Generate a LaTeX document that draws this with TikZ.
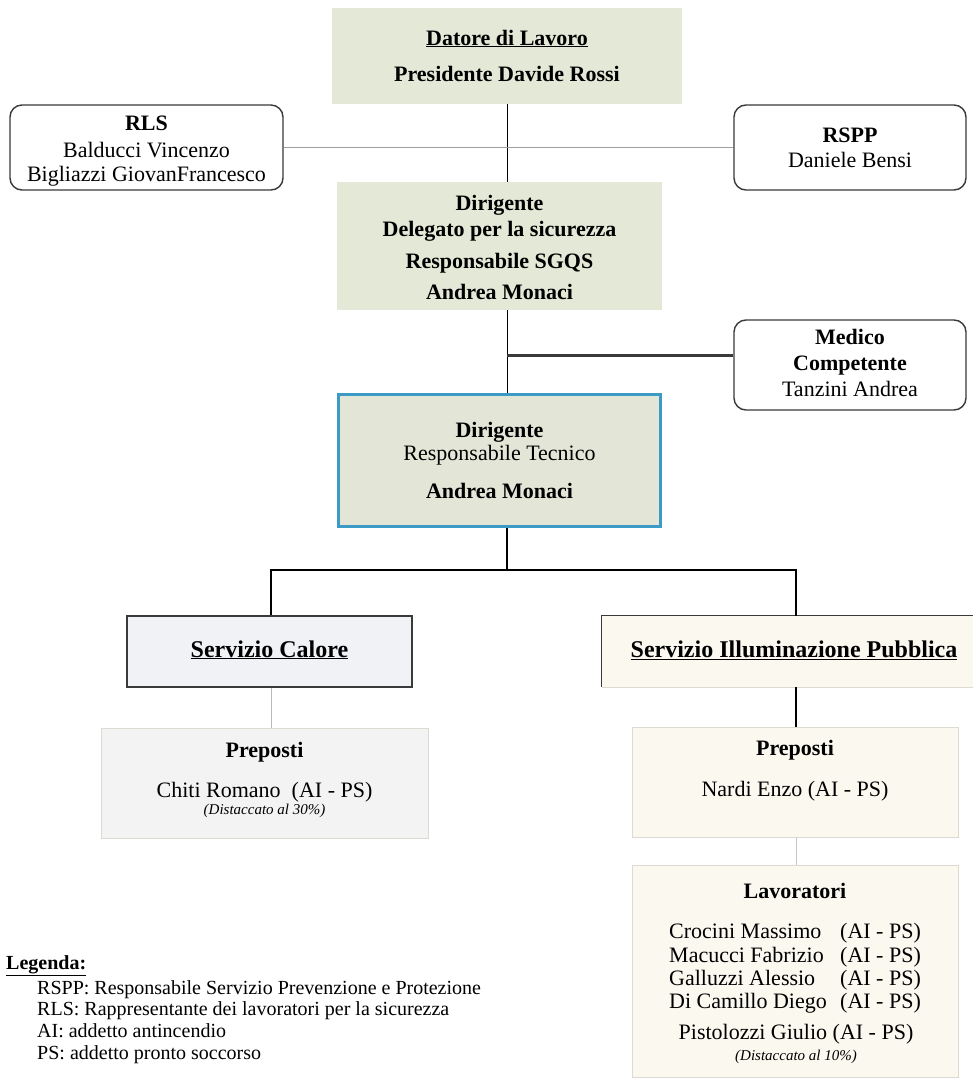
\documentclass[tikz,border=0pt]{standalone}
\usepackage{fontspec}
\setmainfont{Liberation Serif}
\newcommand{\myfs}[1]{\fontsize{#1}{#1}\selectfont}
\definecolor{sagec}{HTML}{E4E8D6}
\definecolor{sagetwo}{HTML}{E3E5D7}
\definecolor{bluec}{HTML}{3C9BC6}
\definecolor{calorec}{HTML}{F1F2F6}
\definecolor{creamc}{HTML}{FAF8EF}
\definecolor{grayc}{HTML}{F3F3F3}
\definecolor{edgec}{HTML}{3A3A3A}
\definecolor{softedge}{HTML}{DCDAD2}
\tikzset{
  sagebox/.style={fill=sagec, draw=none, inner sep=0pt},
  rbox/.style={draw=edgec, line width=1.4pt, rounded corners=12pt, fill=white, inner sep=0pt},
  softbox/.style={draw=softedge, line width=1pt, inner sep=0pt},
  hd/.style={inner sep=0pt, text height=15pt, text depth=5pt, font=\myfs{22}\bfseries},
  tx/.style={inner sep=0pt, text height=15pt, text depth=5pt, font=\myfs{22}},
  it/.style={inner sep=0pt, text height=10pt, text depth=3.5pt, font=\myfs{15}\itshape},
  lg/.style={inner sep=0pt, anchor=west, text height=14pt, text depth=4.5pt, font=\myfs{20}},
  conn/.style={draw=black, line width=1.1pt},
}
\begin{document}
\begin{tikzpicture}[x=1pt,y=-1pt]
\useasboundingbox (0,0) rectangle (973,1079);
\fill[white] (0,0) rectangle (973,1079);
\coordinate (spine) at (507,0);

% ---- boxes ----
\node[sagebox, minimum width=350pt, minimum height=96pt] (datore) at (507,56) {};
\node[rbox, minimum width=273pt, minimum height=85pt] (rls) at (146.5,147.5) {};
\node[rbox, minimum width=232pt, minimum height=85pt] (rspp) at (850,147.5) {};
\node[sagebox, minimum width=325pt, minimum height=128pt] (dir1) at (499.5,246) {};
\node[rbox, minimum width=232pt, minimum height=90pt] (med) at (850,365) {};
\node[fill=sagetwo, draw=bluec, line width=3pt, inner sep=0pt, minimum width=322pt, minimum height=132pt] (dir2) at (499.5,460.5) {};
\node[fill=calorec, draw=edgec, line width=1.3pt, inner sep=0pt, minimum width=285pt, minimum height=71pt] (calore) at (269.5,651.5) {};
\node[fill=creamc, draw=none, inner sep=0pt, minimum width=373pt, minimum height=71pt] (illum) at (788.5,651.5) {};
\draw[edgec, line width=1.3pt] (illum.south west) -- (illum.north west) -- (illum.north east);
\draw[softedge, line width=1.3pt] (illum.south west) -- (illum.south east);
\node[softbox, fill=grayc, minimum width=327pt, minimum height=110pt] (prep1) at (264.5,783) {};
\node[softbox, fill=creamc, minimum width=326pt, minimum height=110pt] (prep2) at (795,782) {};
\node[softbox, fill=creamc, minimum width=326pt, minimum height=212pt] (lav) at (795,971) {};

% ---- connectors ----
\draw[conn, line width=0.9pt] (datore.south) -- (datore.south |- dir1.north);
\draw[draw=gray!75, line width=1.6pt] (rls.east) -- (rspp.west);
\draw[conn, line width=0.9pt] (spine |- dir1.south) -- (spine |- dir2.north);
\coordinate (jm) at (507,355);
\draw[draw=edgec, line width=3pt] (jm) -- (jm -| med.west);
\coordinate (jt) at (507,570);
\coordinate (jl) at (271,570);
\coordinate (jr) at (796,570);
\draw[conn] (spine |- dir2.south) -- (jt);
\draw[conn] (jl |- calore.north) -- (jl) -- (jr) -- (jr |- illum.north);
\draw[draw=gray!55, line width=0.9pt] (jl |- calore.south) -- (jl |- prep1.north);
\draw[conn, line width=1.3pt] (jr |- illum.south) -- (jr |- prep2.north);
\draw[draw=gray!45, line width=0.9pt] (jr |- prep2.south) -- (jr |- lav.north);

% ---- texts ----
\node[hd] (t-dat1) at (507,40) {\underline{Datore di Lavoro}};
\node[hd] (t-dat2) at (507,76) {Presidente Davide Rossi};

\node[hd] (t-rls1) at (146.5,125) {RLS};
\node[tx] (t-rls2) at (146.5,152) {Balducci Vincenzo};
\node[tx] (t-rls3) at (146.5,176) {Bigliazzi GiovanFrancesco};

\node[hd] (t-rspp1) at (850,137) {RSPP};
\node[tx] (t-rspp2) at (850,162) {Daniele Bensi};

\node[hd] (t-d1a) at (499.5,205) {Dirigente};
\node[hd] (t-d1b) at (499.5,231) {Delegato per la sicurezza};
\node[hd] (t-d1c) at (499.5,263) {Responsabile SGQS};
\node[hd] (t-d1d) at (499.5,294) {Andrea Monaci};

\node[hd] (t-med1) at (850,339) {Medico};
\node[hd] (t-med2) at (850,365) {Competente};
\node[tx] (t-med3) at (850,391) {Tanzini Andrea};

\node[hd] (t-d2a) at (499.5,432) {Dirigente};
\node[tx] (t-d2b) at (499.5,455) {Responsabile Tecnico};
\node[hd] (t-d2c) at (499.5,493) {Andrea Monaci};

\node[hd, font=\myfs{24}\bfseries] (t-cal) at (269.5,652) {\underline{Servizio Calore}};
\node[hd, font=\myfs{24}\bfseries] (t-ill) at (794,652) {\underline{Servizio Illuminazione Pubblica}};

\node[hd] (t-p1a) at (264.5,752) {Preposti};
\node[tx] (t-p1b) at (264.5,792) {Chiti Romano\ \ (AI - PS)};
\node[it] (t-p1c) at (264.5,811) {(Distaccato al 30\%)};

\node[hd] (t-p2a) at (795,750) {Preposti};
\node[tx] (t-p2b) at (795,791) {Nardi Enzo (AI - PS)};

\node[hd] (t-lav) at (795,893) {Lavoratori};
\node[tx, anchor=west] (n1) at (669,933) {Crocini Massimo};
\node[tx, anchor=west] (n2) at (669,957) {Macucci Fabrizio};
\node[tx, anchor=west] (n3) at (669,980) {Galluzzi Alessio};
\node[tx, anchor=west] (n4) at (669,1003) {Di Camillo Diego};
\node[tx, anchor=west] (r1) at (840,933) {(AI - PS)};
\node[tx, anchor=west] (r2) at (840,957) {(AI - PS)};
\node[tx, anchor=west] (r3) at (840,980) {(AI - PS)};
\node[tx, anchor=west] (r4) at (840,1003) {(AI - PS)};
\node[tx] (n5) at (796,1034) {Pistolozzi Giulio (AI - PS)};
\node[it] (n6) at (796,1057) {(Distaccato al 10\%)};

\node[inner sep=0pt, anchor=west, text height=14pt, text depth=4.5pt, font=\myfs{20}\bfseries] (leg) at (6,965) {\underline{Legenda:}};
\node[lg] (lg1) at (37,990) {RSPP: Responsabile Servizio Prevenzione e Protezione};
\node[lg] (lg2) at (37,1011) {RLS: Rappresentante dei lavoratori per la sicurezza};
\node[lg] (lg3) at (37,1033) {AI: addetto antincendio};
\node[lg] (lg4) at (37,1055) {PS: addetto pronto soccorso};
\end{tikzpicture}
\end{document}
